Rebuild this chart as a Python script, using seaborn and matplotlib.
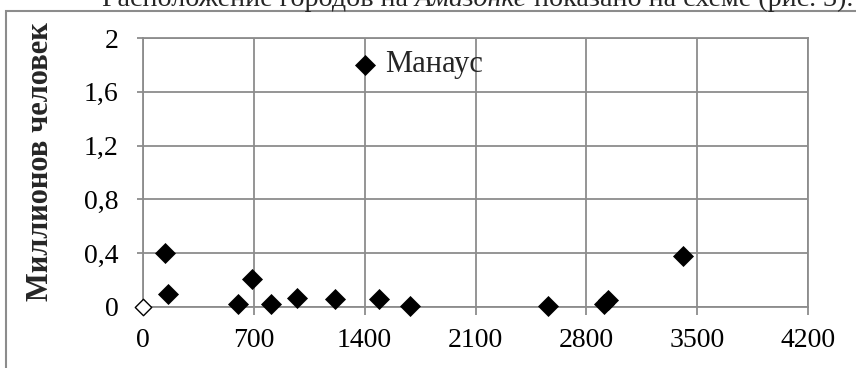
import numpy as np
import pandas as pd
import matplotlib
matplotlib.use("Agg")
import matplotlib.pyplot as plt
import seaborn as sns
from matplotlib.patches import Rectangle

# distance along the river (km) and population (million people)
dist = [140, 160, 600, 690, 810, 975, 1215, 1490, 1685, 2560, 2910, 2935, 3410]
pop = [0.40, 0.10, 0.02, 0.21, 0.02, 0.07, 0.06, 0.06, 0.01, 0.01, 0.02, 0.05, 0.38]
manaus_x, manaus_y = [1400], [1.8]
mouth_x, mouth_y = [0], [0]

x_ticks = [0, 700, 1400, 2100, 2800, 3500, 4200]
y_ticks = [0, 0.4, 0.8, 1.2, 1.6, 2]
y_tick_labels = ['0', '0,4', '0,8', '1,2', '1,6', '2']

grid_col = '#8c8c8c'

sns.set_theme(style='white')
plt.rcParams['font.family'] = ['Liberation Serif', 'DejaVu Serif']

df = pd.DataFrame({'dist': dist + manaus_x, 'pop': pop + manaus_y})

fig = plt.figure(figsize=(8.56, 3.68), dpi=100)
ax = fig.add_axes([143/856, 61/368, 665/856, 269/368])

sns.scatterplot(data=df, x='dist', y='pop', marker='D', s=115, color='black',
                linewidth=0, ax=ax, clip_on=False, zorder=3)
sns.scatterplot(x=mouth_x, y=mouth_y, marker='D', s=70, facecolor='white',
                edgecolor='black', linewidth=1, ax=ax, clip_on=False, zorder=3)

ax.annotate('Манаус', (manaus_x[0], manaus_y[0]), xytext=(15, 0),
            textcoords='offset points', va='center', fontsize=22)

ax.set_xlim(0, 4200)
ax.set_ylim(0, 2)
ax.set_xticks(x_ticks)
ax.set_yticks(y_ticks)
ax.set_yticklabels(y_tick_labels)
ax.grid(True, color=grid_col, lw=1.3)
ax.set_axisbelow(True)
for sp in ax.spines.values():
    sp.set_color(grid_col)
    sp.set_linewidth(1.3)
ax.tick_params(axis='x', direction='out', length=6, width=1.3, color=grid_col,
               pad=9, labelsize=20, labelcolor='black', bottom=True)
ax.tick_params(axis='y', direction='out', length=4.5, width=1.3, color=grid_col,
               pad=13, labelsize=20, labelcolor='black', left=True)
ax.set_xlabel('')
ax.set_ylabel('Миллионов человек', fontsize=22, fontweight='bold', labelpad=0)
ax.yaxis.set_label_coords(55/856, (368 - 172 + 10) / 368, transform=fig.transFigure)

# outer chart frame (cropped on the right and bottom)
fig.patches.append(Rectangle((6/856, -0.2), 1.5, (357/368) + 0.2,
                             transform=fig.transFigure, fill=False,
                             edgecolor=grid_col, lw=1.5))

# cropped line of the page text above the chart, fitted to span x=102..852 px
fig.canvas.draw()
r = fig.canvas.get_renderer()
parts = [('Расположение городов на ', 'normal'), ('Амазонке', 'italic'),
         (' показано на схеме (рис. 3).', 'normal')]


def put_line(size, remove=False):
    xpos = 102 / 856
    made = []
    for txt, st in parts:
        t = fig.text(xpos, 1 - 6/368, txt, fontsize=size, style=st,
                     va='baseline', ha='left')
        bb = t.get_window_extent(r)
        xpos = bb.x1 / 856
        made.append(t)
    if remove:
        for t in made:
            t.remove()
    return xpos * 856 - 102


w20 = put_line(20, remove=True)
put_line(20 * 750 / w20)

fig.savefig('out.png', dpi=100)
